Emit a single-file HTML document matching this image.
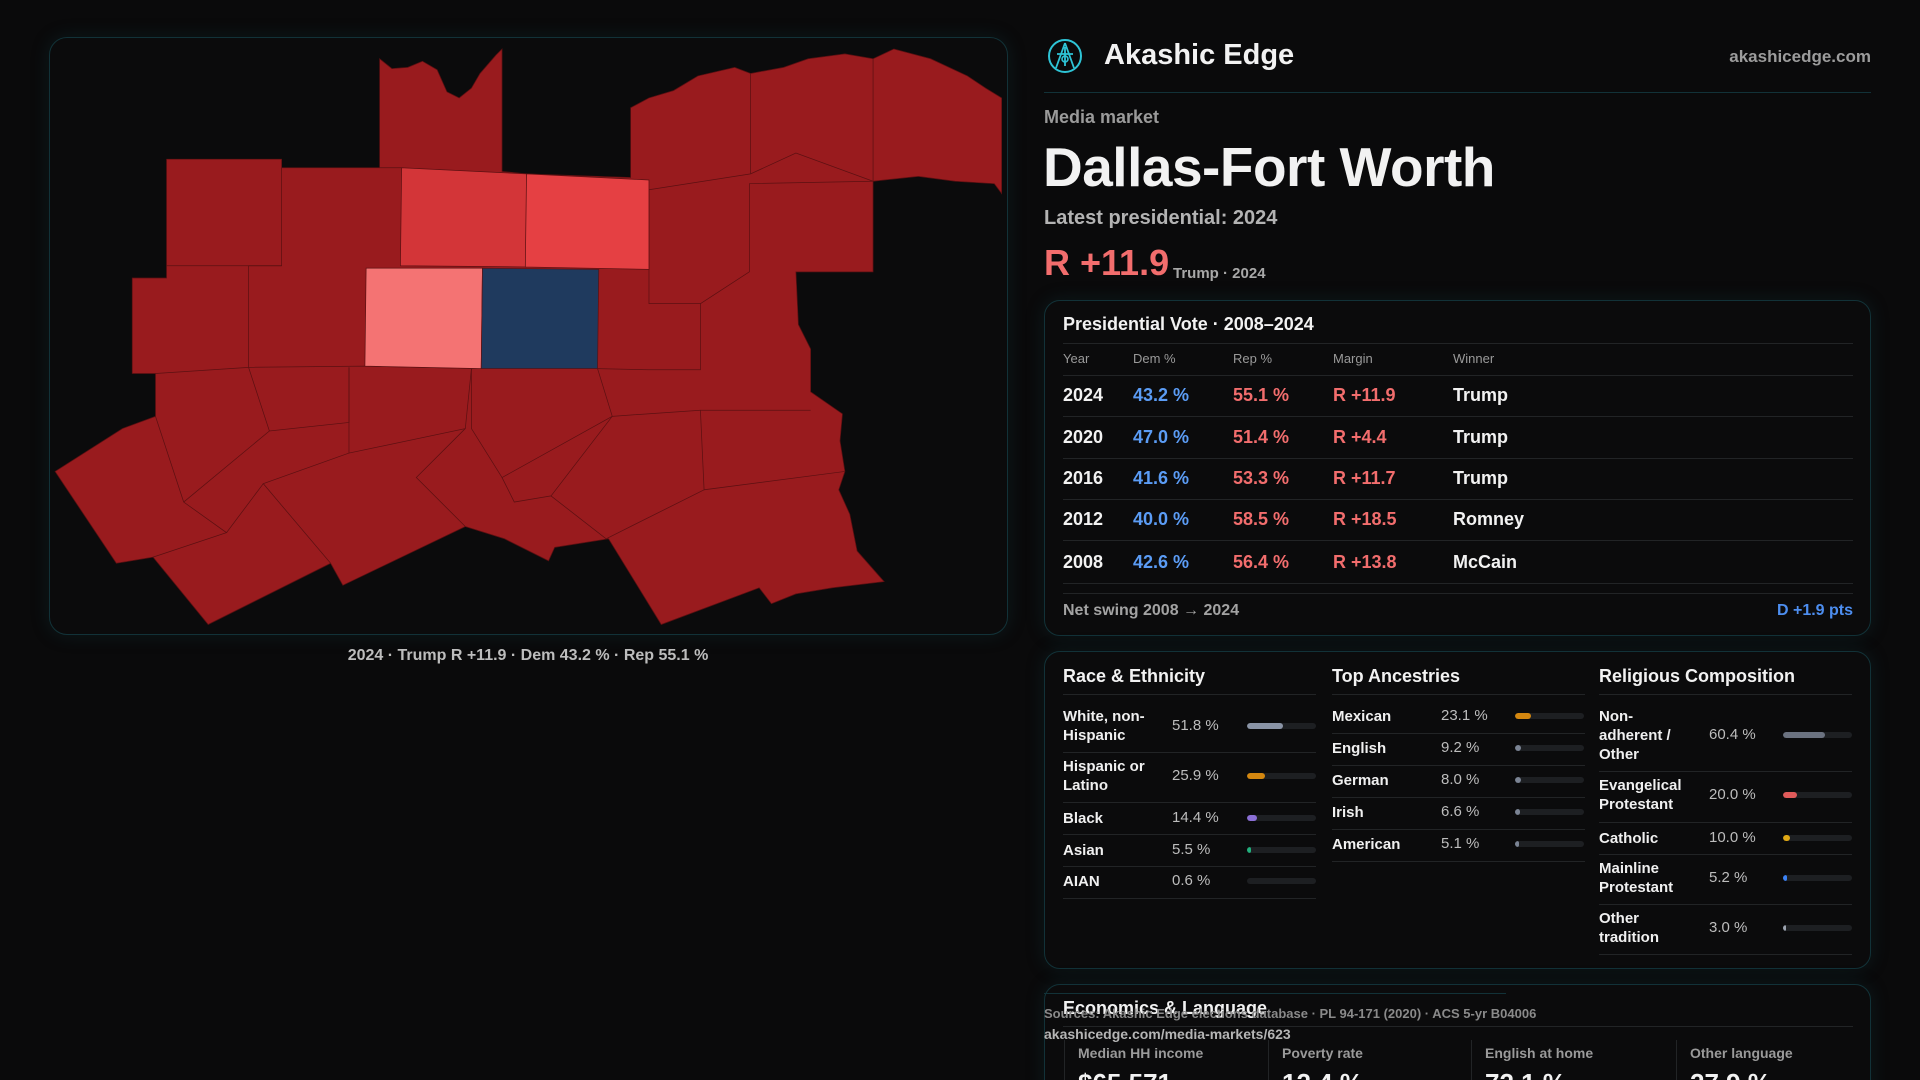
<!DOCTYPE html>
<html style="width:1920px;height:1080px;overflow:hidden"><head><meta charset="utf-8">
<style>
*{box-sizing:border-box;margin:0;padding:0}
body{width:1920px;height:1080px;overflow:hidden;background:#0a0a0b;font-family:"Liberation Sans",sans-serif;color:#f2f2f2;position:relative}
.abs{position:absolute;white-space:nowrap}
.card{position:absolute;border:1px solid #123238;border-radius:16px;background:#0b0b0c;box-shadow:0 0 18px rgba(20,70,80,0.25)}
.gray{color:#a3a3a3}
.hdr{font-size:13px;color:#9a9a9a}
.sep{position:absolute;height:1px;background:#222426}
</style></head><body>
<div id="root" style="position:absolute;left:0;top:0;width:1920px;height:1080px;overflow:hidden">

<!-- MAP PANEL -->
<div class="card" style="left:49px;top:37px;width:959px;height:598px;border-radius:18px;background:#0b0b0c"></div>
<svg class="abs" style="left:0;top:0" width="1920" height="1080" viewBox="0 0 1568 882">
<g stroke="#5c1012" stroke-width="0.6">
<polygon fill="#991b1e" points="310,48 320,56 333,55 345,50 357,57 365,75 375,80 385,72 392,60 405,45 410,40 410,140 430,142 515,145 515,88 530,80 550,74 570,62 600,55 613,60 640,55 660,48 690,44 713,48 730,40 760,48 790,62 805,72 818,80 818,158 812,150 780,148 750,144 713,148 713,222 650,222 652,265 662,285 662,320 688,338 686,360 690,385 685,400 694,420 700,450 722,475 680,480 650,485 630,493 620,480 540,510 497,440 453,447 448,458 412,440 380,430 280,478 270,460 170,510 125,455 95,460 45,385 100,350 127,340 127,305 108,305 108,227 136,227 136,130 230,130 230,137 310,137"/>
<g fill="none">
<polyline points="230,137 230,217 203,217 203,300 127,305"/>
<polyline points="136,217 230,217"/>
<polyline points="310,137 328,137"/>
<polyline points="203,300 298,299 393,301 488,301 530,302 572,302 572,248 530,248 530,155"/>
<polyline points="572,248 612,222 612,150 713,148"/>
<polyline points="613,142 613,60"/><polyline points="713,148 713,48"/>
<polyline points="530,155 613,142 650,125 713,148"/>
<polyline points="203,300 220,352 285,345 285,300"/>
<polyline points="285,300 285,370 380,350 385,301"/>
<polyline points="385,301 385,350 410,390 500,340 488,301"/>
<polyline points="500,340 572,335 662,335"/>
<polyline points="410,390 420,410 450,405 500,340"/>
<polyline points="450,405 495,440"/>
<polyline points="572,335 575,400 690,385"/>
<polyline points="575,400 495,440"/>
<polyline points="127,340 150,410 185,435 125,455"/>
<polyline points="220,352 150,410"/>
<polyline points="285,370 215,395 270,460"/>
<polyline points="215,395 185,435"/>
<polyline points="380,350 340,390 380,430"/>
</g>
<polygon fill="#d33538" points="328,137 430,142 430,218 327,217"/>
<polygon fill="#e54043" points="430,142 530,147 530,220 429,218"/>
<polygon fill="#f47373" points="299,219 394,219 393,301 298,299"/>
<polygon fill="#1f3a5e" points="394,219 489,220 488,301 393,301"/>
</g>
</svg>
<div class="abs gray" style="left:0;width:1056px;text-align:center;top:647px;font-size:16px;font-weight:bold;color:#bdbdbd">2024 · Trump R +11.9 · Dem 43.2 % · Rep 55.1 %</div>

<!-- HEADER -->
<svg class="abs" style="left:1047px;top:38px" width="36" height="36" viewBox="0 0 36 36">
<circle cx="18" cy="18" r="16" fill="none" stroke="#2ec4d6" stroke-width="2"/>
<path d="M18 5 L9 30 M18 5 L27 30 M10 16 L26 16 M18 9 L18 28" stroke="#2ec4d6" stroke-width="1.8" fill="none"/>
<circle cx="18" cy="21" r="3" fill="none" stroke="#2ec4d6" stroke-width="1.6"/>
</svg>
<div class="abs" style="left:1104px;top:39px;font-size:29px;font-weight:bold">Akashic Edge</div>
<div class="abs" style="right:49px;top:47px;font-size:17px;font-weight:bold;color:#9c9c9c">akashicedge.com</div>
<div class="sep" style="left:1044px;width:827px;top:92px;background:#123238"></div>
<div class="abs" style="left:1044px;top:107px;font-size:18px;font-weight:bold;color:#9a9a9a">Media market</div>
<div class="abs" style="left:1043px;top:135px;font-size:55px;font-weight:bold;letter-spacing:-0.5px">Dallas-Fort Worth</div>
<div class="abs" style="left:1044px;top:207px;font-size:20px;font-weight:bold;color:#b3b3b3">Latest presidential: 2024</div>
<div class="abs" style="left:1044px;top:242px;font-size:36px;font-weight:bold;color:#f26d6d">R +11.9</div>
<div class="abs" style="left:1173px;top:265px;font-size:15px;font-weight:bold;color:#a8a8a8">Trump · 2024</div>

<!-- VOTE CARD -->
<div class="card" style="left:1044px;top:300px;width:827px;height:336px"></div>
<div class="abs" style="left:1063px;top:314px;font-size:18px;font-weight:bold">Presidential Vote · 2008–2024</div>
<div class="sep" style="left:1063px;width:790px;top:343px"></div>
<div class="abs hdr" style="left:1063px;top:351px">Year</div>
<div class="abs hdr" style="left:1133px;top:351px">Dem %</div>
<div class="abs hdr" style="left:1233px;top:351px">Rep %</div>
<div class="abs hdr" style="left:1333px;top:351px">Margin</div>
<div class="abs hdr" style="left:1453px;top:351px">Winner</div>
<div class="sep" style="left:1063px;width:790px;top:375px"></div>
<div class="sep" style="left:1063px;width:790px;top:593px"></div>
<div class="abs" style="left:1063px;top:602px;font-size:16px;font-weight:bold;color:#a3a3a3">Net swing 2008 → 2024</div>
<div class="abs" style="right:67px;top:602px;font-size:16px;font-weight:bold;color:#4d8ef0">D +1.9 pts</div>

<!-- DEMOGRAPHICS CARD -->
<div class="card" style="left:1044px;top:651px;width:827px;height:318px"></div>
<div class="abs" style="left:1063px;top:666px;font-size:18px;font-weight:bold">Race &amp; Ethnicity</div>
<div class="abs" style="left:1332px;top:666px;font-size:18px;font-weight:bold">Top Ancestries</div>
<div class="abs" style="left:1599px;top:666px;font-size:18px;font-weight:bold">Religious Composition</div>

<!-- ECONOMICS CARD -->
<div class="card" style="left:1044px;top:984px;width:827px;height:130px"></div>
<div class="sep" style="left:1044px;width:462px;top:993px;background:#123238"></div>
<div class="abs" style="left:1063px;top:998px;font-size:18px;font-weight:bold">Economics &amp; Language</div>
<div class="abs" style="left:1044px;top:1006px;font-size:13px;font-weight:bold;color:#8a8a8a">Sources: Akashic Edge elections database · PL 94-171 (2020) · ACS 5-yr B04006</div>
<div class="sep" style="left:1063px;width:790px;top:1026px"></div>
<div class="abs" style="left:1044px;top:1026px;font-size:14px;font-weight:bold;color:#b5b5b5">akashicedge.com/media-markets/623</div>
</div>

<script>
const years=[2024,2020,2016,2012,2008];
const demPct=[43.2,47.0,41.6,40.0,42.6];
const repPct=[55.1,51.4,53.3,58.5,56.4];
const winners=["Trump","Trump","Trump","Romney","McCain"];

const raceLabels=["White, non-Hispanic","Hispanic or Latino","Black","Asian","AIAN"];
const raceValues=[51.8,25.9,14.4,5.5,0.6];
const ancLabels=["Mexican","English","German","Irish","American"];
const ancValues=[23.1,9.2,8.0,6.6,5.1];
const relLabels=["Non-adherent / Other","Evangelical Protestant","Catholic","Mainline Protestant","Other tradition"];
const relValues=[60.4,20.0,10.0,5.2,3.0];

const econLabels=["Median HH income","Poverty rate","English at home","Other language"];
const econValues=["$65,571","12.4 %","72.1 %","27.9 %"];

const root=document.getElementById('root');
function mk(tag,css,txt,parent){const e=document.createElement(tag);e.className='abs';e.style.cssText=css;if(txt!=null)e.textContent=txt;(parent||root).appendChild(e);return e;}

const rowTop=[378,420,461,502,545];
years.forEach((y,i)=>{
  const t=rowTop[i];
  const m=repPct[i]-demPct[i];
  const cells=[[y,1063,'#f2f2f2'],[demPct[i].toFixed(1)+' %',1133,'#5b9cf5'],[repPct[i].toFixed(1)+' %',1233,'#f26d6d'],[(m>=0?'R +':'D +')+Math.abs(m).toFixed(1),1333,'#f26d6d'],[winners[i],1453,'#f2f2f2']];
  cells.forEach((c,j)=>{
    const e=mk('div','left:'+c[1]+'px;top:'+(t+7)+'px;font-size:18px;font-weight:bold;color:'+c[2],String(c[0]));
    
    
  });
  const s=document.createElement('div');s.className='sep';s.style.cssText='left:1063px;width:790px;top:'+(t+38)+'px';root.appendChild(s);
  
  
});

function col(labels,values,colors,x,centers,seps,lblW,valX,barX,name){
  labels.forEach((l,i)=>{
    const c=centers[i];
    const lb=mk('div','left:'+x+'px;top:0px;width:'+lblW+'px;white-space:normal;font-size:15px;font-weight:bold;line-height:19px;color:#f0f0f0',l);
    lb.style.top=(c-lb.offsetHeight/2)+'px';
    
    
    const v=mk('div','left:'+valX+'px;top:'+(c-9)+'px;font-size:15px;color:#bdbdbd',values[i].toFixed(1)+' %');
    
    
    const tr=mk('div','left:'+barX+'px;top:'+(c-3)+'px;width:69px;height:6px;border-radius:3px;background:#1d1f22;overflow:hidden');
    
    
    const f=document.createElement('div');
    f.style.cssText='height:6px;border-radius:3px;background:'+colors[i]+';width:'+(values[i]<1?0:Math.max(3,values[i]/100*69))+'px';
    
    
    tr.appendChild(f);
  });
  seps.forEach(y=>{const s=document.createElement('div');s.className='sep';s.style.cssText='left:'+x+'px;width:253px;top:'+y+'px';root.appendChild(s);
    
    });
}
col(raceLabels,raceValues,['#8a94a6','#d4870f','#8b6fd6','#22b07d','#555'],1063,[726,776,818,850,881],[694,752,802,834,866,898],95,1172,1247,'race');
col(ancLabels,ancValues,['#d4870f','#7b8494','#7b8494','#7b8494','#7b8494'],1332,[716,748,780,812,844],[694,733,765,797,829,861],100,1441,1515,'ancestry');
col(relLabels,relValues,['#6b7280','#e05a5a','#e0a814','#3b82f6','#9ca3af'],1599,[735,795,838,878,928],[694,771,822,854,904,954],84,1709,1783,'religion');

const ex=[1078,1282,1485,1690];
econLabels.forEach((l,i)=>{
  const a=mk('div','left:'+ex[i]+'px;top:1045px;font-size:14px;font-weight:bold;color:#9a9a9a',l);
  
  
  const b=mk('div','left:'+ex[i]+'px;top:1068px;font-size:26px;font-weight:bold;color:#f2f2f2',econValues[i]);
  
  
  const d=mk('div','left:'+(ex[i]-14)+'px;top:1040px;width:1px;height:50px;background:#222426');
  
  
});
</script>
</body></html>
